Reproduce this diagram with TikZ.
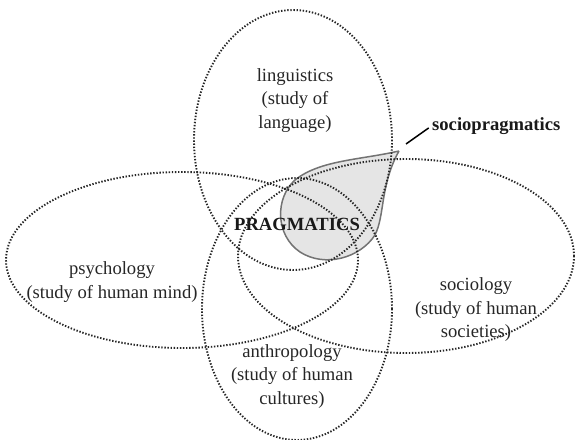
\documentclass[tikz,border=0pt]{standalone}
\usepackage{fontspec}
\setmainfont{Liberation Serif}
\begin{document}
\begin{tikzpicture}[x=1pt,y=-1pt,
  field/.style={draw=black!85,line width=1.9pt,dash pattern=on 1.4pt off 1.7pt},
  leaf/.style={draw=black!55,line width=1.5pt,fill=black!10},
  lbl/.style={font=\fontsize{18.6}{23.5}\selectfont,text=black!85,align=center,inner sep=0pt},
  blbl/.style={lbl,font=\fontsize{18.6}{23.5}\selectfont\bfseries,text=black!90}]
\useasboundingbox (0,0) rectangle (575,439);
% leaf (sociopragmatics)
\draw[leaf] (399,151) .. controls (360,160) and (320,160) .. (295,180)
  .. controls (275,198) and (275,235) .. (300,252)
  .. controls (325,268) and (360,258) .. (375,235)
  .. controls (385,215) and (380,185) .. (399,151);
\coordinate (tip) at (406,144);
% ellipses
\draw[field] (293,140) ellipse [x radius=99, y radius=130];
\draw[field] (297,309) ellipse [x radius=95, y radius=131];
\draw[field] (182,260) ellipse [x radius=176, y radius=88];
\draw[field] (406,256) ellipse [x radius=168, y radius=97];
% labels
\node[lbl] (ling) at (295,100.5) {linguistics\\(study of\\language)};
\node[lbl] (psy) at (112,282) {psychology\\(study of human mind)};
\node[lbl] (soc) at (476,310) {sociology\\(study of human\\societies)};
\node[lbl] (anth) at (292,376.5) {anthropology\\(study of human\\cultures)};
\node[blbl,anchor=base] (prag) at (297,230) {PRAGMATICS};
\node[blbl,anchor=base west] (sp) at (432,130) {sociopragmatics};
\draw[black,line width=1.5pt,shorten >=4pt] (tip) -- (sp.west);
\end{tikzpicture}
\end{document}
